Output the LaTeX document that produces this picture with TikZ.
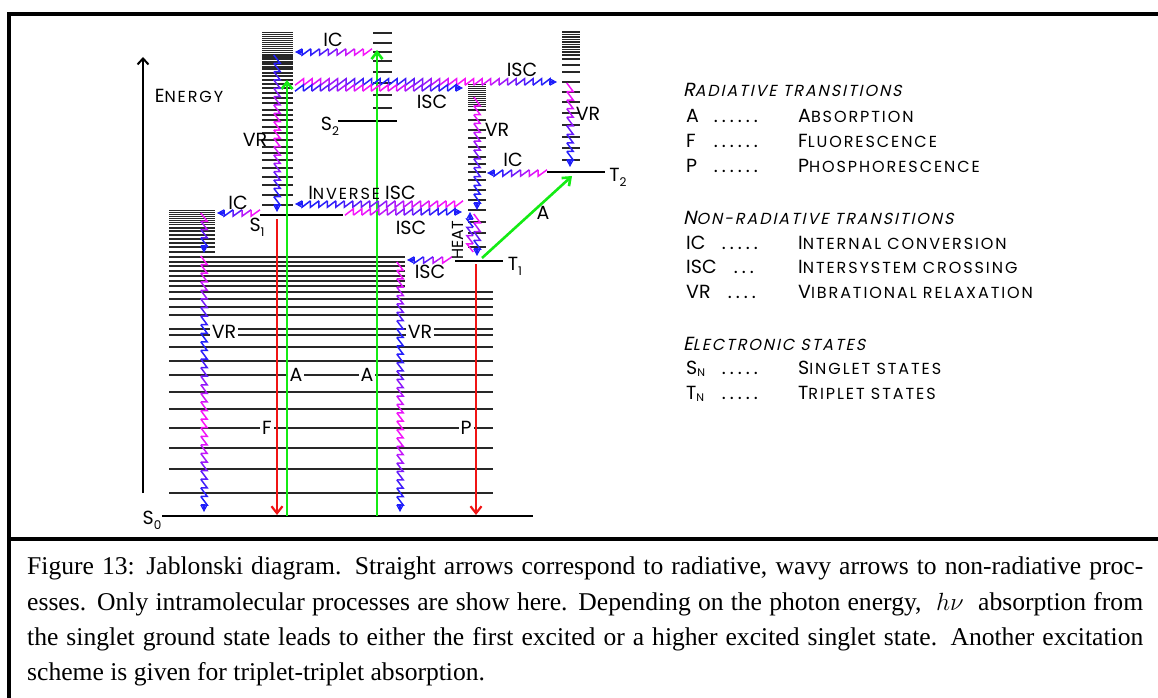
\documentclass[tikz,border=0pt]{standalone}
\usepackage{fontspec}
\setmainfont{Liberation Serif}
\newfontfamily\dg{Poppins}
\newfontfamily\dgs[LetterSpace=12]{Poppins}
\newfontfamily\dgi[FakeSlant=0.22]{Poppins}
\newfontfamily\dgis[FakeSlant=0.22,LetterSpace=12]{Poppins}
\usetikzlibrary{arrows.meta,calc}
\definecolor{wmag}{RGB}{250,20,250}
\definecolor{wblu}{RGB}{30,30,250}
\definecolor{grn}{RGB}{20,235,20}
\definecolor{rd}{RGB}{240,20,20}
\definecolor{vibc}{RGB}{40,40,40}
\newcommand\Bg{\fontsize{19}{19}\selectfont}
\newcommand\Sm{\fontsize{16}{16}\selectfont}
\newcommand\subs[1]{\lower5pt\hbox{\fontsize{12}{12}\selectfont #1}}
\newcommand\sct[2]{{\Bg #1}{\dgs\Sm #2}}
\newcommand\scti[2]{{\Bg #1}{\dgis\Sm #2}}
\newcommand\dts[1]{\foreach \k in {1,...,#1}{\hbox to 8pt{\hss.\hss}}}
\newdimen\wvA \newdimen\wvB \newdimen\wvC \newdimen\wvD
\newcommand\wamp{3.2}
% #1 from, #2 to, #3 half cycles, #4 phase, #5 arrow length (0 = none)
\newcommand\wavy[5]{%
  \pgfextractx{\wvA}{\pgfpointanchor{#1}{center}}%
  \pgfextracty{\wvB}{\pgfpointanchor{#1}{center}}%
  \pgfextractx{\wvC}{\pgfpointanchor{#2}{center}}%
  \pgfextracty{\wvD}{\pgfpointanchor{#2}{center}}%
  \pgfmathsetmacro\wxa{\wvA}%
  \pgfmathsetmacro\wya{\wvB}%
  \pgfmathsetmacro\wdx{\wvC-\wvA}%
  \pgfmathsetmacro\wdy{\wvD-\wvB}%
  \pgfmathsetmacro\wL{veclen(\wdx,\wdy)}%
  \pgfmathsetmacro\wux{\wdx/\wL}%
  \pgfmathsetmacro\wuy{\wdy/\wL}%
  \pgfmathsetmacro\wLz{\wL-#5}%
  \pgfmathtruncatemacro\wN{max(1,round(\wLz/8.5))}%
  \pgfmathsetmacro\wt{\wLz/\wN}%
  \foreach \i in {1,...,\wN}{%
    \pgfmathsetmacro\wsa{(\i-1)*\wt}%
    \pgfmathsetmacro\wsb{\i*\wt}%
    \pgfmathsetmacro\wmx{max(0,min(100,50+50*cos(180*#3*(\i-0.5)/\wN+180*#4)))}%
    \pgfmathsetmacro\pax{\wxa+\wux*\wsa+\wuy*\wamp}%
    \pgfmathsetmacro\pay{\wya+\wuy*\wsa-\wux*\wamp}%
    \pgfmathsetmacro\pbx{\wxa+\wux*\wsb-\wuy*\wamp}%
    \pgfmathsetmacro\pby{\wya+\wuy*\wsb+\wux*\wamp}%
    \pgfmathsetmacro\pcx{\wxa+\wux*\wsb+\wuy*\wamp}%
    \pgfmathsetmacro\pcy{\wya+\wuy*\wsb-\wux*\wamp}%
    \draw[wline,wmag!\wmx!wblu] (\pax pt,\pay pt) -- (\pbx pt,\pby pt) -- (\pcx pt,\pcy pt);
  }%
  \ifdim#5pt>0pt
    \pgfmathsetmacro\pex{\wxa+\wux*\wLz}%
    \pgfmathsetmacro\pey{\wya+\wuy*\wLz}%
    \pgfmathsetmacro\pcx{\pex+\wuy*\wamp}%
    \pgfmathsetmacro\pcy{\pey-\wux*\wamp}%
    \draw[wline,wblu,-{Stealth[length=#5pt,width=7.5pt]}] (\pcx pt,\pcy pt) -- (\pex pt,\pey pt) -- (#2);
  \fi
}
\tikzset{
  lvl/.style={line width=2.6pt, black},
  vib/.style={line width=1.4pt, vibc},
  vibd/.style={line width=1.0pt, vibc},
  vibt/.style={line width=2.6pt, vibc},
  vibn/.style={line width=1.1pt, vibc},
  wline/.style={line width=1.5pt},
  radg/.style={grn, line width=2.6pt, -{Straight Barb[length=7pt,width=11pt]}},
  radr/.style={rd, line width=2.2pt, -{Straight Barb[length=7pt,width=11pt]}},
  lbl/.style={font=\dg\Bg, inner sep=1pt},
  lblw/.style={lbl, fill=white, inner sep=2pt},
  leg/.style={font=\dg\Bg, anchor=base west, inner sep=0pt},
  legd/.style={font=\dg\Bg, anchor=base east, inner sep=0pt},
  legh/.style={font=\dgi\Bg, anchor=base west, inner sep=0pt},
  capt/.style={font=\fontsize{25.6}{25.6}\selectfont, anchor=base west, inner sep=0pt},
}
\begin{document}
\begin{tikzpicture}[x=1pt,y=-1pt]
\useasboundingbox (0,0) rectangle (1158,698);
% frame
\coordinate (fbl) at (9.3,698); \coordinate (ftl) at (9.3,14.2); \coordinate (ftr) at (1158,14.2);
\draw[line width=4pt] (fbl) -- (ftl) -- (ftr);
\coordinate (sepl) at (9.3,539); \coordinate (sepr) at (1158,539);
\draw[line width=3.2pt] (sepl) -- (sepr);
% energy axis
\coordinate (ax0) at (143,493); \coordinate (ax1) at (143,57);
\draw[line width=2pt, -{Straight Barb[length=6pt,width=11pt]}] (ax0) -- (ax1);
\node[lbl] (energy) at (189,96) {\sct{E}{NERGY}};
% S0 manifold
\foreach \y in {210,212,...,224} \draw[vibd] (169,\y) -- (215,\y);
\foreach \y in {228,231,235,239,243,247,252} \draw[vib] (169,\y) -- (215,\y);
\foreach \y in {257,262,266,271,276,281,286} \draw[vibt] (169,\y) -- (405,\y);
\foreach \y in {292,299,307,315,335,347,392,409,448,469,493} \draw[vibt] (169,\y) -- (493,\y);
\foreach \y in {329,361,375,428} \draw[vibn] (169,\y) -- (493,\y);
% S1 vibrational stack
\foreach \y in {33,35,...,53} \draw[vibd] (262,\y) -- (293,\y);
\foreach \y in {55,57,59,62,64,67,69,73,76,80,84,88,93,98,103,110,115,120,127,133,140,147,153,160,168,177,185,195,205} \draw[vib] (262,\y) -- (293,\y);
% S2 stack
\foreach \y in {33,43,52,61,72,83,95,108} \draw[vib] (373,\y) -- (392,\y);
% T1 stack
\foreach \y in {85,87,...,107} \draw[vibd] (468,\y) -- (486,\y);
\foreach \y in {110,120,130,138,147,157,164,172,180,190,200,210,222,233,247} \draw[vib] (468,\y) -- (486,\y);
% T2 stack
\foreach \y in {32,34.5,37,39.5,42,44.5,47,49.5,52,55,59,65,72,82,92,102,113,125,137,148,160} \draw[vib] (562,\y) -- (580,\y);
% electronic levels
\coordinate (S0a) at (162,516); \coordinate (S0b) at (533,516); \draw[lvl] (S0a) -- (S0b);
\coordinate (S1a) at (260,215); \coordinate (S1b) at (343,215); \draw[lvl] (S1a) -- (S1b);
\coordinate (S2a) at (338,121); \coordinate (S2b) at (397,121); \draw[lvl] (S2a) -- (S2b);
\coordinate (T1a) at (455,261); \coordinate (T1b) at (503,261); \draw[lvl] (T1a) -- (T1b);
\coordinate (T2a) at (547,172); \coordinate (T2b) at (605,172); \draw[lvl] (T2a) -- (T2b);
\node[lbl] (lS0) at (152,520) {S\subs{0}};
\node[lbl] (lS1) at (257,227) {S\subs{1}};
\node[lbl] (lS2) at (330,126) {S\subs{2}};
\node[lbl] (lT1) at (515,266) {T\subs{1}};
\node[lbl] (lT2) at (618,177) {T\subs{2}};
% radiative transitions
\coordinate (rF0) at (277,219); \coordinate (rF1) at (277,515); \draw[radr] (rF0) -- (rF1);
\coordinate (rP0) at (476,264); \coordinate (rP1) at (476,515); \draw[radr] (rP0) -- (rP1);
\coordinate (gA0) at (287,516); \coordinate (gA1) at (287,80); \draw[radg] (gA0) -- (gA1);
\coordinate (gB0) at (377,516); \coordinate (gB1) at (377,50); \draw[radg] (gB0) -- (gB1);
\coordinate (gC0) at (482,258); \coordinate (gC1) at (572,176); \draw[radg] (gC0) -- (gC1);
% non-radiative transitions
\coordinate (w1a) at (372,52);  \coordinate (w1b) at (295,52);  \wavy{w1a}{w1b}{1}{0}{7}
\coordinate (w2a) at (295,82);  \coordinate (w2b) at (557,82);  \wavy{w2a}{w2b}{3}{0}{7}
\coordinate (w3a) at (295,88);  \coordinate (w3b) at (463,88);  \wavy{w3a}{w3b}{2}{1}{7}
\coordinate (w4a) at (277,55);  \coordinate (w4b) at (277,212); \wavy{w4a}{w4b}{2}{1}{7}
\coordinate (w5a) at (463,204); \coordinate (w5b) at (295,204); \wavy{w5a}{w5b}{1}{0}{7}
\coordinate (w6a) at (345,212); \coordinate (w6b) at (462,212); \wavy{w6a}{w6b}{1}{0}{7}
\coordinate (w7a) at (260,213); \coordinate (w7b) at (217,213); \wavy{w7a}{w7b}{1}{0}{7}
\coordinate (w8a) at (204,213); \coordinate (w8b) at (204,253); \wavy{w8a}{w8b}{1}{0}{7}
\coordinate (w9a) at (204,256); \coordinate (w9b) at (204,512); \wavy{w9a}{w9b}{3}{0}{7}
\coordinate (w10a) at (547,173); \coordinate (w10b) at (487,173); \wavy{w10a}{w10b}{1}{0}{7}
\coordinate (w11a) at (570,83);  \coordinate (w11b) at (570,167); \wavy{w11a}{w11b}{1}{0}{7}
\coordinate (w12a) at (477,97);  \coordinate (w12b) at (477,210); \wavy{w12a}{w12b}{1}{0}{7}
\coordinate (w13a) at (477,214); \coordinate (w13b) at (477,256); \wavy{w13a}{w13b}{1}{0}{7}
\coordinate (w14a) at (470,252); \coordinate (w14b) at (470,212); \wavy{w14a}{w14b}{1}{0}{7}
\coordinate (w15a) at (452,260); \coordinate (w15b) at (407,260); \wavy{w15a}{w15b}{1}{0}{7}
\coordinate (w16a) at (400,262); \coordinate (w16b) at (400,512); \wavy{w16a}{w16b}{3}{0}{7}
% transition labels
\node[lbl] (tIC1) at (333,40) {IC};
\node[lbl] (tISC1) at (522,70) {ISC};
\node[lbl] (tISC2) at (432,102) {ISC};
\node[lbl] (tVR1) at (255,140) {VR};
\node[lbl] (tINV) at (362,193) {\sct{I}{NVERSE} ISC};
\node[lbl] (tISC3) at (411,228) {ISC};
\node[lbl] (tIC2) at (238,203) {IC};
\node[lbl] (tIC3) at (513,160) {IC};
\node[lbl] (tVR2) at (588,114) {VR};
\node[lbl] (tVR3) at (497,130) {VR};
\node[lbl, rotate=90, font=\dg\Sm] (tHEAT) at (458,240) {HEAT};
\node[lbl] (tISC4) at (430,272) {ISC};
\node[lblw] (tVR4) at (224,332) {VR};
\node[lblw] (tVR5) at (420,332) {VR};
\node[lblw] (tA1) at (296,375) {A};
\node[lblw] (tA2) at (367,375) {A};
\node[lblw] (tF) at (267,428) {F};
\node[lblw] (tP) at (466,428) {P};
\node[lbl] (tA3) at (543,213) {A};
% legend
\node[legh] (h1) at (683,97) {\scti{R}{ADIATIVE TRANSITIONS}};
\node[leg] (k1) at (686,122) {A};   \node[legd] (e1) at (760,122) {\dts{6}}; \node[leg] (d1) at (798,122) {\sct{A}{BSORPTION}};
\node[leg] (k2) at (686,147) {F};   \node[legd] (e2) at (760,147) {\dts{6}}; \node[leg] (d2) at (798,147) {\sct{F}{LUORESCENCE}};
\node[leg] (k3) at (686,172) {P};   \node[legd] (e3) at (760,172) {\dts{6}}; \node[leg] (d3) at (798,172) {\sct{P}{HOSPHORESCENCE}};
\node[legh] (h2) at (683,224) {\scti{N}{ON-RADIATIVE TRANSITIONS}};
\node[leg] (k4) at (686,249) {IC};  \node[legd] (e4) at (760,249) {\dts{5}}; \node[leg] (d4) at (798,249) {\sct{I}{NTERNAL CONVERSION}};
\node[leg] (k5) at (686,273) {ISC}; \node[legd] (e5) at (756,273) {\dts{3}}; \node[leg] (d5) at (798,273) {\sct{I}{NTERSYSTEM CROSSING}};
\node[leg] (k6) at (686,298) {VR};  \node[legd] (e6) at (758,298) {\dts{4}}; \node[leg] (d6) at (798,298) {\sct{V}{IBRATIONAL RELAXATION}};
\node[legh] (h3) at (683,350) {\scti{E}{LECTRONIC STATES}};
\node[leg] (k7) at (686,374) {S{\fontsize{11}{11}\selectfont\raisebox{-2pt}{N}}}; \node[legd] (e7) at (760,374) {\dts{5}}; \node[leg] (d7) at (798,374) {\sct{S}{INGLET STATES}};
\node[leg] (k8) at (686,399) {T{\fontsize{11}{11}\selectfont\raisebox{-2pt}{N}}}; \node[legd] (e8) at (760,399) {\dts{5}}; \node[leg] (d8) at (798,399) {\sct{T}{RIPLET STATES}};
% caption
\node[capt] (c1) at (27,574) {\hbox to 1116pt{Figure 13: Jablonski diagram. Straight arrows correspond to radiative, wavy arrows to non-radiative proc-}};
\node[capt] (c2) at (27,610) {\hbox to 1116pt{esses. Only intramolecular processes are show here. Depending on the photon energy, \ $h\nu$ \ absorption from}};
\node[capt] (c3) at (27,645) {\hbox to 1116pt{the singlet ground state leads to either the first excited or a higher excited singlet state. Another excitation}};
\node[capt] (c4) at (27,680) {scheme is given for triplet-triplet absorption.};
\end{tikzpicture}
\end{document}
